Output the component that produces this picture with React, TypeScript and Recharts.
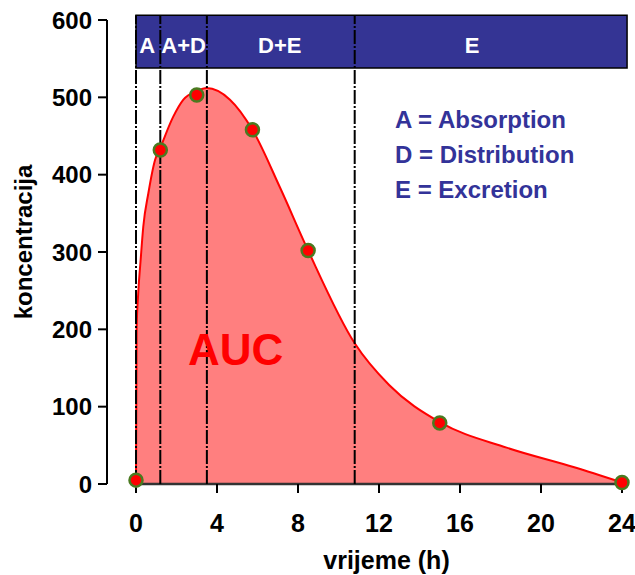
import React from 'react';
import {
  ComposedChart,
  Area,
  Scatter,
  XAxis,
  YAxis,
  ReferenceLine,
  ReferenceArea,
  ReferenceDot,
} from 'recharts';

const FONT = "'Liberation Sans', Arial, Helvetica, sans-serif";

// measured samples (markers)
const sampleTimes = [0, 1.2, 3, 5.75, 8.5, 15, 24];
const sampleConc = [5, 432, 503, 458, 302, 79, 2];

// fitted curve
const curveTimes = [0, 0.03, 0.11, 0.23, 0.36, 0.61, 0.94, 1.2, 1.84, 2.34, 3, 3.49, 4.64, 5.75, 7.1, 8.5, 10.8, 12.5, 15, 18.3, 21.6, 24];
const curveConc = [0, 200, 247, 290, 333, 376, 419, 435, 475, 497, 508, 512, 497, 458, 384, 302, 182, 128, 80, 47, 22, 2];

// phases
const phaseBounds = [0, 1.2, 3.5, 10.8];
const phaseNames = ['A', 'A+D', 'D+E', 'E'];
const phaseLabelAt = [0.55, 2.35, 7.1, 16.6];
const bandFrom = 538;
const bandTo = 606;
const bandLabelY = 557;

const legendLines = ['A = Absorption', 'D = Distribution', 'E = Excretion'];
const legendX = 12.79;
const legendY = [460, 415, 370];

const aucText = 'AUC';
const aucAt = { t: 2.57, c: 154 };

const xTicks = [0, 4, 8, 12, 16, 20, 24];
const yTicks = [0, 100, 200, 300, 400, 500, 600];

const samples = sampleTimes.map((t, i) => ({ t, c: sampleConc[i] }));
const curve = curveTimes.map((t, i) => ({ t, c: curveConc[i] }));

const Marker = (props: any) => {
  const { cx, cy } = props;
  if (cx == null || cy == null) return null;
  return <circle cx={cx} cy={cy} r={6.5} fill="#ff0000" stroke="#4a7a20" strokeWidth={2.5} />;
};

const textLabel =
  (value: string, opts: { fill: string; size: number; anchor: string }) =>
  (props: any) => {
    const vb = props.viewBox || {};
    const x = (vb.x ?? 0) + (vb.width ?? 0) / 2;
    const y = (vb.y ?? 0) + (vb.height ?? 0) / 2;
    return (
      <text
        x={x}
        y={y}
        textAnchor={opts.anchor}
        fill={opts.fill}
        fontSize={opts.size}
        fontWeight="bold"
        fontFamily={FONT}
      >
        {value}
      </text>
    );
  };

const XLabel = (props: any) => {
  const vb = props.viewBox || {};
  return (
    <text
      x={vb.x + vb.width / 2 + 22}
      y={vb.y + vb.height - 6}
      textAnchor="middle"
      fill="#000"
      fontSize={25}
      fontWeight="bold"
      fontFamily={FONT}
    >
      vrijeme (h)
    </text>
  );
};

const YLabel = (props: any) => {
  const vb = props.viewBox || {};
  const x = 32;
  const y = vb.y + vb.height / 2 - 10;
  return (
    <text
      x={x}
      y={y}
      transform={`rotate(-90, ${x}, ${y})`}
      textAnchor="middle"
      fill="#000"
      fontSize={24}
      fontWeight="bold"
      fontFamily={FONT}
    >
      koncentracija
    </text>
  );
};

export default function App() {
  return (
    <div style={{ position: 'absolute', left: 0, top: 0, background: '#fff' }}>
      <ComposedChart width={635} height={575} margin={{ top: 20, right: 13, bottom: 0, left: 0 }}>
        <XAxis
          type="number"
          dataKey="t"
          domain={[0, 24]}
          ticks={xTicks}
          padding={{ left: 29, right: 0 }}
          height={91}
          axisLine={false}
          tickSize={9}
          tickMargin={21}
          tickLine={{ stroke: '#000', strokeWidth: 2 }}
          tick={{ fill: '#000', fontSize: 25, fontWeight: 'bold', fontFamily: FONT }}
          label={{ content: XLabel }}
        />
        <YAxis
          type="number"
          domain={[0, 600]}
          ticks={yTicks}
          width={107}
          axisLine={{ stroke: '#000', strokeWidth: 2 }}
          tickSize={9}
          tickMargin={6}
          tickLine={{ stroke: '#000', strokeWidth: 2 }}
          tick={{ fill: '#000', fontSize: 24, fontWeight: 'bold', fontFamily: FONT }}
          label={{ content: YLabel }}
        />
        <Area
          data={curve}
          dataKey="c"
          type="monotone"
          stroke="#ff0000"
          strokeWidth={2}
          fill="#ff7f7f"
          fillOpacity={1}
          isAnimationActive={false}
          dot={false}
          activeDot={false}
        />
        <ReferenceDot
          x={aucAt.t}
          y={aucAt.c}
          r={0}
          fill="none"
          stroke="none"
          label={{ content: textLabel(aucText, { fill: '#ff0000', size: 44, anchor: 'start' }) }}
        />
        <ReferenceLine
          segment={[{ x: 0, y: 0 }, { x: 24, y: 0 }]}
          stroke="#333"
          strokeWidth={2.5}
          ifOverflow="visible"
        />
        <ReferenceArea
          x1={0}
          x2={24.25}
          y1={bandFrom}
          y2={bandTo}
          fill="#343494"
          fillOpacity={1}
          stroke="#000"
          strokeWidth={1.5}
          ifOverflow="visible"
        />
        {phaseBounds.map((b) => (
          <ReferenceLine
            key={'pl' + b}
            segment={[{ x: b, y: 0 }, { x: b, y: bandTo }]}
            stroke="#000"
            strokeWidth={2}
            strokeDasharray="14 2 2 2"
            ifOverflow="visible"
          />
        ))}
        {phaseNames.map((n, i) => (
          <ReferenceDot
            key={'pn' + n}
            x={phaseLabelAt[i]}
            y={bandLabelY}
            r={0}
            fill="none"
            stroke="none"
            ifOverflow="visible"
            label={{ content: textLabel(n, { fill: '#ffffff', size: 22, anchor: 'middle' }) }}
          />
        ))}
        {legendLines.map((s, i) => (
          <ReferenceDot
            key={'lg' + i}
            x={legendX}
            y={legendY[i]}
            r={0}
            fill="none"
            stroke="none"
            label={{ content: textLabel(s, { fill: '#333399', size: 24, anchor: 'start' }) }}
          />
        ))}
        <Scatter data={samples} dataKey="c" shape={Marker} isAnimationActive={false} />
      </ComposedChart>
    </div>
  );
}
